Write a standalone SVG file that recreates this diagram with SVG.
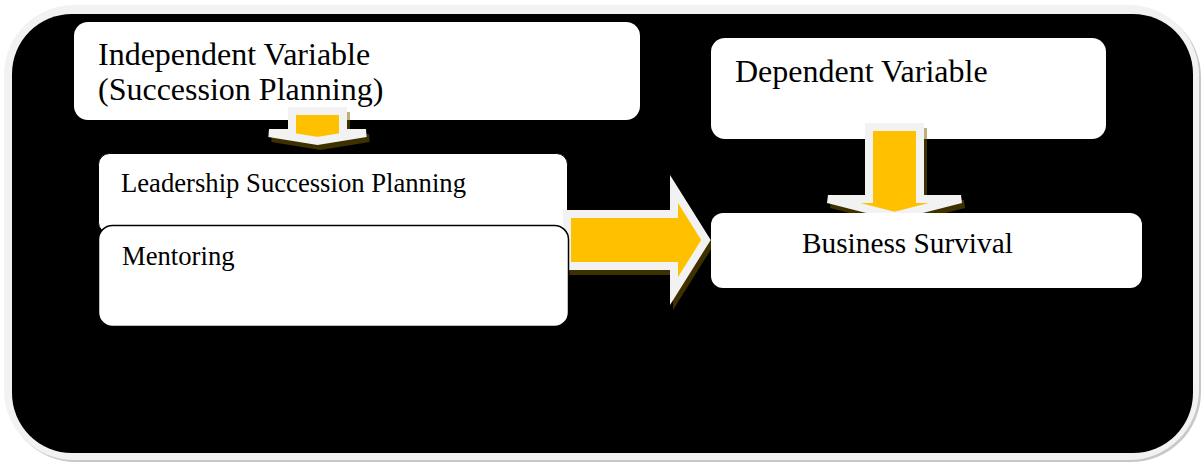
<svg xmlns="http://www.w3.org/2000/svg" xmlns:xlink="http://www.w3.org/1999/xlink" width="1202" height="462" viewBox="0 0 1202 462">
<style>
.box{fill:#ffffff;}
.t{font-family:"Liberation Serif","Times New Roman",serif;fill:#000000;}
.arrow{fill:#ffc000;stroke:#f2f2f2;stroke-width:8;}
.shadow{fill:#7f6000;stroke:#7f6000;stroke-width:8;}
</style>
<defs>
<path id="a1" d="M292,111 H343 V133 H366 L317.5,141 L269,133 H292 Z"/>
<path id="a2" d="M567,214 H674 V189 L706,240 L674,291 V266 H567 Z"/>
<path id="a3" d="M869,127 H920 V199 H961 L894.5,216 L828,199 H869 Z"/>
</defs>
<g id="background">
<rect x="6" y="7" width="1195" height="455" rx="70" fill="#c8c8c8"/>
<rect x="4" y="5" width="1195" height="455" rx="70" fill="#f2f2f2"/>
<rect x="12" y="14" width="1181" height="439" rx="60" fill="#000000"/>
</g>
<g id="node-independent">
<rect class="box" x="74" y="22" width="566" height="98" rx="14"/>
<text class="t" x="98" y="65" font-size="32">Independent Variable</text>
<text class="t" x="98" y="100" font-size="32">(Succession Planning)</text>
</g>
<g id="node-leadership">
<rect class="box" x="98.5" y="153.5" width="469" height="80" rx="11" stroke="#000" stroke-width="1"/>
<text class="t" x="121" y="192" font-size="26.67">Leadership Succession Planning</text>
</g>
<g id="node-dependent">
<rect class="box" x="711" y="38" width="395" height="101" rx="14"/>
<text class="t" x="735" y="82" font-size="32">Dependent Variable</text>
</g>
<g id="connectors">
<g opacity="0.5" transform="translate(3,5)">
<use xlink:href="#a1" class="shadow"/>
<use xlink:href="#a2" class="shadow"/>
<use xlink:href="#a3" class="shadow"/>
</g>
<use xlink:href="#a1" class="arrow"/>
<use xlink:href="#a2" class="arrow"/>
<use xlink:href="#a3" class="arrow"/>
</g>
<g id="node-mentoring">
<rect class="box" x="98.5" y="225.5" width="470" height="101" rx="14" stroke="#000" stroke-width="1.5"/>
<text class="t" x="122" y="265" font-size="26.67">Mentoring</text>
</g>
<g id="node-business">
<rect class="box" x="711" y="213" width="431" height="75" rx="12"/>
<text class="t" x="802" y="253" font-size="29.3">Business Survival</text>
</g>
</svg>
